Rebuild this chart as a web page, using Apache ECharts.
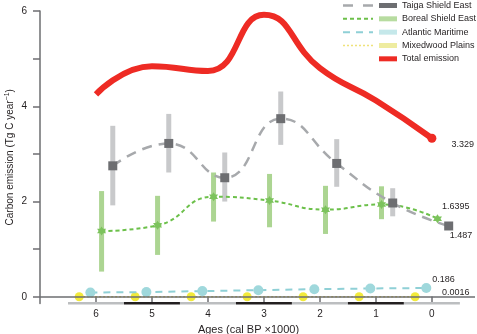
<!DOCTYPE html>
<html>
<head>
<meta charset="utf-8">
<script src="https://cdn.jsdelivr.net/npm/echarts@6/dist/echarts.min.js"></script>
<style>
  html, body { margin: 0; padding: 0; background: #fff; }
  #chart { width: 477px; height: 334px; }
</style>
</head>
<body>
<div id="chart"></div>
<script>
// ages (cal BP x1000) and values
const ages = [6, 5, 4, 3, 2, 1, 0];
const tickAges = [0, 1, 2, 3, 4, 5, 6];
const yTicks = [0, 1, 2, 3, 4, 5, 6];
const yLabels = [0, 2, 4, 6];

const taigaAges = [5.7, 4.7, 3.7, 2.7, 1.7, 0.7, -0.3];
const taiga = [2.75, 3.22, 2.50, 3.74, 2.80, 1.97, 1.487];
const taigaLow = [1.92, 2.61, 2.00, 3.19, 2.31, 1.69, null];
const taigaHigh = [3.59, 3.84, 3.03, 4.31, 3.31, 2.28, null];

const borealAges = [5.9, 4.9, 3.9, 2.9, 1.9, 0.9, -0.1];
const boreal = [1.38, 1.50, 2.10, 2.02, 1.83, 1.94, 1.6395];
const borealLow = [0.53, 0.88, 1.58, 1.46, 1.32, 1.63, null];
const borealHigh = [2.22, 2.12, 2.61, 2.58, 2.33, 2.32, null];

const atlanticAges = [6.1, 5.1, 4.1, 3.1, 2.1, 1.1, 0.1];
const atlantic = [0.09, 0.10, 0.12, 0.14, 0.16, 0.175, 0.186];

const mixedAges = [6.3, 5.3, 4.3, 3.3, 2.3, 1.3, 0.3];
const mixedwood = [0.002, 0.002, 0.002, 0.002, 0.002, 0.002, 0.0016];

const total = [4.25, 4.84, 4.74, 5.92, 4.80, 4.12, 3.329];

// alternating time band under the axis: [from, to]
const bandSegments = [[6.5, 5.5], [5.5, 4.5], [4.5, 3.5], [3.5, 2.5], [2.5, 1.5], [1.5, 0.5], [0.5, -0.5]];

const names = ['Taiga Shield East', 'Boreal Shield East', 'Atlantic Maritime', 'Mixedwood Plains', 'Total emission'];

const X_MIN = -0.77, X_MAX = 7;
const Y_MIN = -0.14, Y_MAX = 6;
const textColor = '#231f20';
const axisGray = '#6d6e71';
const starPath = 'path://M0,-10L2.9,-5L8.66,-5L5.8,0L8.66,5L2.9,5L0,10L-2.9,5L-8.66,5L-5.8,0L-8.66,-5L-2.9,-5Z';

function pts(xs, ys, lastLabel) {
  return xs.map((x, i) => {
    const item = { value: [x, ys[i]] };
    if (i === xs.length - 1 && lastLabel) item.label = lastLabel;
    return item;
  });
}

function endLabel(offset) {
  return {
    show: true,
    position: 'right',
    distance: 0,
    offset: offset,
    fontSize: 9,
    color: textColor,
    fontFamily: 'Liberation Sans',
    formatter: p => String(p.value[1])
  };
}

function errorBars(xs, lo, hi) {
  return xs.map((x, i) => [x, lo[i], hi[i]]).filter(d => d[1] != null);
}

function barRender(width) {
  return function (params, api) {
    const top = api.coord([api.value(0), api.value(2)]);
    const bot = api.coord([api.value(0), api.value(1)]);
    return {
      type: 'rect',
      shape: { x: top[0] - width / 2, y: top[1], width: width, height: bot[1] - top[1] },
      style: { fill: api.visual('color') }
    };
  };
}

const chart = echarts.init(document.getElementById('chart'), null, { renderer: 'canvas' });

// legend geometry
const legTop = 1, legGap = 13.33;
const legendLines = [
  { color: '#a7a9ac', dash: [10, 10], width: 2.5 },
  { color: '#6cc04a', dash: [4, 3], width: 2 },
  { color: '#8fd0d6', dash: [7, 6], width: 2 },
  { color: '#efe27a', dash: [2, 2], width: 1.5 }
];
const legendGraphics = legendLines.map((l, i) => ({
  type: 'line',
  id: 'leg' + i,
  silent: true,
  shape: { x1: 343, y1: legTop + 4.5 + i * legGap, x2: 373, y2: legTop + 4.5 + i * legGap },
  style: { stroke: l.color, lineWidth: l.width, lineDash: l.dash }
}));

const topLabel = yLabels[yLabels.length - 1];

const option = {
  animation: false,
  backgroundColor: '#fff',
  textStyle: { fontFamily: 'Liberation Sans' },
  grid: { left: 40, right: 2, top: 11, bottom: 30.5, outerBoundsMode: 'none', containLabel: false },
  legend: {
    orient: 'vertical',
    left: 379,
    top: legTop,
    padding: 0,
    itemWidth: 18,
    itemHeight: 5,
    itemGap: legGap - 9,
    selectedMode: false,
    textStyle: { fontSize: 9, lineHeight: 9, color: textColor, fontFamily: 'Liberation Sans' },
    data: [
      { name: names[0], icon: 'rect', itemStyle: { color: '#6d6e71', borderWidth: 0 } },
      { name: names[1], icon: 'rect', itemStyle: { color: '#b7dca0', borderWidth: 0 } },
      { name: names[2], icon: 'rect', itemStyle: { color: '#c5e8ea', borderWidth: 0 } },
      { name: names[3], icon: 'rect', itemStyle: { color: '#eeeca0', borderWidth: 0 } },
      { name: names[4], icon: 'rect', itemStyle: { color: '#ee2b24', borderWidth: 0 } }
    ]
  },
  graphic: legendGraphics,
  xAxis: {
    type: 'value',
    inverse: true,
    min: X_MIN,
    max: X_MAX,
    name: 'Ages (cal BP \u00d71000)',
    nameLocation: 'middle',
    nameGap: 18,
    nameTextStyle: { fontSize: 11, color: textColor, padding: [0, 18, 0, 0] },
    axisLine: { show: false, onZero: false },
    axisTick: {
      show: true, inside: true, length: 7,
      customValues: tickAges,
      lineStyle: { color: axisGray, width: 1.5 }
    },
    axisLabel: { customValues: tickAges, fontSize: 10, color: textColor, margin: 6 },
    splitLine: { show: false }
  },
  yAxis: {
    type: 'value',
    min: Y_MIN,
    max: Y_MAX,
    name: 'Carbon emission (Tg C year{sup|\u22121})',
    nameLocation: 'middle',
    nameGap: 23,
    nameMoveOverlap: false,
    nameTextStyle: {
      fontSize: 10, color: textColor,
      rich: { sup: { fontSize: 7, padding: [0, 0, 6, 0], color: textColor } }
    },
    axisLine: { show: true, onZero: false, lineStyle: { color: axisGray, width: 1.5 } },
    axisTick: {
      show: true, length: 7,
      customValues: yTicks,
      lineStyle: { color: axisGray, width: 1.5 }
    },
    axisLabel: {
      customValues: yLabels, fontSize: 10, color: textColor, margin: 13,
      hideOverlap: false,
      // the top label is drawn separately below (v6 shifts it sideways)
      formatter: v => (v === topLabel ? '' : String(v))
    },
    splitLine: { show: false }
  },
  series: [
    {
      name: 'band',
      type: 'custom',
      silent: true,
      data: bandSegments.map((s, i) => [s[0], s[1], i % 2]),
      renderItem: function (params, api) {
        const a = api.coord([api.value(0), Y_MIN]);
        const b = api.coord([api.value(1), Y_MIN]);
        return {
          type: 'rect',
          shape: { x: a[0], y: a[1] - 1.5, width: b[0] - a[0], height: 2.5 },
          style: { fill: api.value(2) ? '#231f20' : '#bcbec0' }
        };
      },
      z: 1
    },
    {
      name: 'Taiga bars',
      type: 'custom',
      silent: true,
      itemStyle: { color: '#c8c9cb' },
      data: errorBars(taigaAges, taigaLow, taigaHigh),
      renderItem: barRender(5),
      z: 2
    },
    {
      name: 'Boreal bars',
      type: 'custom',
      silent: true,
      itemStyle: { color: '#acd592' },
      data: errorBars(borealAges, borealLow, borealHigh),
      renderItem: barRender(5),
      z: 2
    },
    {
      name: names[3],
      type: 'line',
      data: pts(mixedAges, mixedwood, endLabel([22.5, -4])),
      symbol: 'circle',
      symbolSize: 9,
      itemStyle: { color: '#f2ea3a' },
      lineStyle: { color: '#d9c53a', width: 1.5, type: [2, 2] },
      markLine: {
        silent: true,
        symbol: 'none',
        label: { show: false },
        lineStyle: { color: axisGray, width: 1.5, type: 'solid' },
        data: [{ yAxis: 0 }]
      },
      z: 3
    },
    {
      name: names[2],
      type: 'line',
      data: pts(atlanticAges, atlantic, endLabel([1, -8])),
      symbol: 'circle',
      symbolSize: 10,
      itemStyle: { color: '#9fd8dc' },
      lineStyle: { color: '#8fd0d6', width: 2, type: [7, 6] },
      z: 4
    },
    {
      name: names[1],
      type: 'line',
      smooth: 0.5,
      data: pts(borealAges, boreal, endLabel([0, -12])),
      symbol: starPath,
      symbolSize: 9,
      itemStyle: { color: '#7cc35c' },
      lineStyle: { color: '#6cc04a', width: 2, type: [4, 3] },
      z: 5
    },
    {
      name: names[0],
      type: 'line',
      smooth: 0.5,
      data: pts(taigaAges, taiga, endLabel([-3.5, 10])),
      symbol: 'rect',
      symbolSize: 9,
      itemStyle: { color: '#6d6e71' },
      lineStyle: { color: '#a7a9ac', width: 2.5, type: [10, 7] },
      z: 5
    },
    {
      name: names[4],
      type: 'line',
      smooth: 0.5,
      data: ages.map((a, i) => {
        const item = { value: [a, total[i]] };
        if (i === ages.length - 1) {
          item.symbol = 'circle';
          item.symbolSize = 9;
          item.label = endLabel([15, 6]);
        }
        return item;
      }),
      symbol: 'none',
      itemStyle: { color: '#ee2b24' },
      lineStyle: { color: '#ee2b24', width: 6 },
      z: 6
    }
  ]
};

chart.setOption(option);

// top y label, placed through the grid's own scale
const p = chart.convertToPixel({ gridIndex: 0 }, [X_MAX, topLabel]);
chart.setOption({
  graphic: legendGraphics.concat([{
    type: 'text',
    id: 'ytop',
    silent: true,
    x: p[0] - 13,
    y: p[1],
    style: {
      text: String(topLabel),
      align: 'right',
      verticalAlign: 'middle',
      fontSize: 10,
      fontFamily: 'Liberation Sans',
      fill: textColor
    }
  }])
});
</script>
</body>
</html>
